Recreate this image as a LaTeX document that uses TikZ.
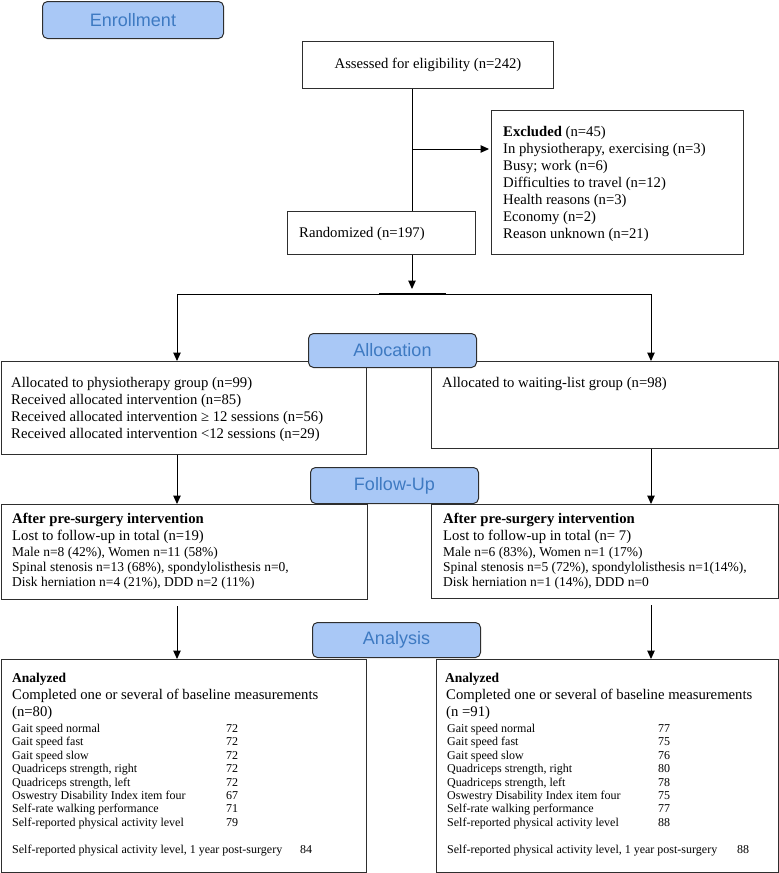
\documentclass[tikz,border=0pt]{standalone}
\usepackage{fontspec}
\setmainfont{Liberation Serif}
\newfontfamily\labelfont{Liberation Sans}
\usetikzlibrary{arrows.meta,calc}
\definecolor{secfill}{HTML}{A9C8F6}
\definecolor{sectext}{HTML}{3E7AC2}
\definecolor{lineclr}{HTML}{2E2E2E}
\begin{document}
\begin{tikzpicture}[x=1pt,y=-1pt,
  box/.style={draw=lineclr, line width=1pt, fill=white, anchor=north west, inner sep=0pt},
  sec/.style={draw=lineclr, line width=1pt, fill=secfill, rounded corners=5pt, anchor=north west, inner sep=0pt,
              font=\labelfont\fontsize{18}{21}\selectfont, text=sectext},
  txt/.style={anchor=north west, inner sep=0pt, align=left, font=\fontsize{14.7}{17}\selectfont},
  smalltxt/.style={anchor=north west, inner sep=0pt, align=left, font=\fontsize{13.5}{15}\selectfont},
  tabtxt/.style={anchor=north west, inner sep=0pt, font=\fontsize{12}{13.45}\selectfont},
  conn/.style={draw=black, line width=1pt},
  arr/.style={conn, -{Triangle[length=8.5pt,width=7.5pt]}},
]
\useasboundingbox (0,0) rectangle (779,873);

% coordinates for connector columns
\coordinate (colM) at (412,0);
\coordinate (colL) at (177,0);
\coordinate (colR) at (651,0);
\coordinate (split) at (412,294);
\coordinate (exclY) at (0,149);
\coordinate (thickA) at (379,294);
\coordinate (thickB) at (446,294);

% boxes
\node[box, minimum width=251pt, minimum height=47pt, font=\fontsize{14.7}{17}\selectfont] (assess) at (302,41) {Assessed for eligibility (n=242)};
\node[box, minimum width=252pt, minimum height=144pt] (excl) at (491,110) {};
\node[box, minimum width=188pt, minimum height=43pt] (rand) at (287,211) {};
\node[box, minimum width=365.4pt, minimum height=93pt] (allocL) at (0.6,361) {};
\node[box, minimum width=347.4pt, minimum height=87pt] (allocR) at (431,361) {};
\node[box, minimum width=366.4pt, minimum height=95pt] (fuL) at (0.6,504) {};
\node[box, minimum width=347.4pt, minimum height=94pt] (fuR) at (431,504) {};
\node[box, minimum width=365.4pt, minimum height=213.4pt] (anL) at (0.6,659) {};
\node[box, minimum width=342.4pt, minimum height=213.4pt] (anR) at (436,659) {};

% section labels
\node[sec, minimum width=181pt, minimum height=37pt] (secEnroll) at (42,1) {Enrollment};
\node[sec, minimum width=168pt, minimum height=34pt] (secAlloc) at (308,333) {Allocation};
\node[sec, minimum width=168pt, minimum height=36pt] (secFU) at (310,467) {Follow-Up};
\node[sec, minimum width=168pt, minimum height=35pt] (secAn) at (312,622) {Analysis};

% texts
\node[txt] (exclT) at (503,124.1) {\strut\textbf{Excluded} (n=45)\\In physiotherapy, exercising (n=3)\\Busy; work (n=6)\\Difficulties to travel (n=12)\\Health reasons (n=3)\\Economy (n=2)\\Reason unknown (n=21)};
\node[txt] (randT) at (299,225.6) {\strut Randomized (n=197)};
\node[txt] (allocLT) at (11,375.1) {\strut Allocated to physiotherapy group (n=99)\\Received allocated intervention (n=85)\\Received allocated intervention ≥ 12 sessions (n=56)\\Received allocated intervention <12 sessions (n=29)};
\node[txt] (allocRT) at (442,375.1) {\strut Allocated to waiting-list group (n=98)};

\node[txt] (fuLT) at (12,511.1) {\strut\textbf{After pre-surgery intervention}\\Lost to follow-up in total (n=19)};
\node[smalltxt] (fuLS) at (12,545.5) {\strut Male n=8 (42\%), Women n=11 (58\%)\\Spinal stenosis n=13 (68\%), spondylolisthesis n=0,\\Disk herniation n=4 (21\%), DDD n=2 (11\%)};
\node[txt] (fuRT) at (443,511.1) {\strut\textbf{After pre-surgery intervention}\\Lost to follow-up in total (n= 7)};
\node[smalltxt] (fuRS) at (443,545.5) {\strut Male n=6 (83\%), Women n=1 (17\%)\\Spinal stenosis n=5 (72\%), spondylolisthesis n=1(14\%),\\Disk herniation n=1 (14\%), DDD n=0};

\node[txt, font=\fontsize{13.5}{15}\selectfont\bfseries] (anLH) at (12,672) {\strut Analyzed};
\node[txt] (anLT) at (12,687.1) {\strut Completed one or several of baseline measurements\\(n=80)};
\node[tabtxt] (anLTab) at (12,722.6) {\begin{tabular}{@{}p{214pt}@{}l@{}}
Gait speed normal & 72\\ Gait speed fast & 72\\ Gait speed slow & 72\\
Quadriceps strength, right & 72\\ Quadriceps strength, left & 72\\
Oswestry Disability Index item four & 67\\ Self-rate walking performance & 71\\
Self-reported physical activity level & 79\end{tabular}};
\node[tabtxt] (anLLast) at (12,843.6) {\strut\makebox[288pt][l]{Self-reported physical activity level, 1 year post-surgery}84};

\node[txt, font=\fontsize{13.5}{15}\selectfont\bfseries] (anRH) at (445,672) {\strut Analyzed};
\node[txt] (anRT) at (446,687.1) {\strut Completed one or several of baseline measurements\\(n =91)};
\node[tabtxt] (anRTab) at (447,722.6) {\begin{tabular}{@{}p{211pt}@{}l@{}}
Gait speed normal & 77\\ Gait speed fast & 75\\ Gait speed slow & 76\\
Quadriceps strength, right & 80\\ Quadriceps strength, left & 78\\
Oswestry Disability Index item four & 75\\ Self-rate walking performance & 77\\
Self-reported physical activity level & 88\end{tabular}};
\node[tabtxt] (anRLast) at (447,843.6) {\strut\makebox[290pt][l]{Self-reported physical activity level, 1 year post-surgery}88};

% connectors
\draw[conn] (colM |- assess.south) -- (colM |- rand.north);
\draw[arr, shorten >=2pt] (colM |- exclY) -- (excl.west |- exclY);
\draw[arr, shorten >=5pt] (colM |- rand.south) -- (split);
\draw[arr] (split) -| (colL |- allocL.north);
\draw[arr] (split) -| (colR |- allocR.north);
\draw[line width=2.4pt] (thickA) -- (thickB);
\draw[arr] (colL |- allocL.south) -- (colL |- fuL.north);
\draw[arr] (colR |- allocR.south) -- (colR |- fuR.north);
\draw[arr, shorten <=6pt] (colL |- fuL.south) -- (colL |- anL.north);
\draw[arr, shorten <=6pt] (colR |- fuR.south) -- (colR |- anR.north);
\end{tikzpicture}
\end{document}
